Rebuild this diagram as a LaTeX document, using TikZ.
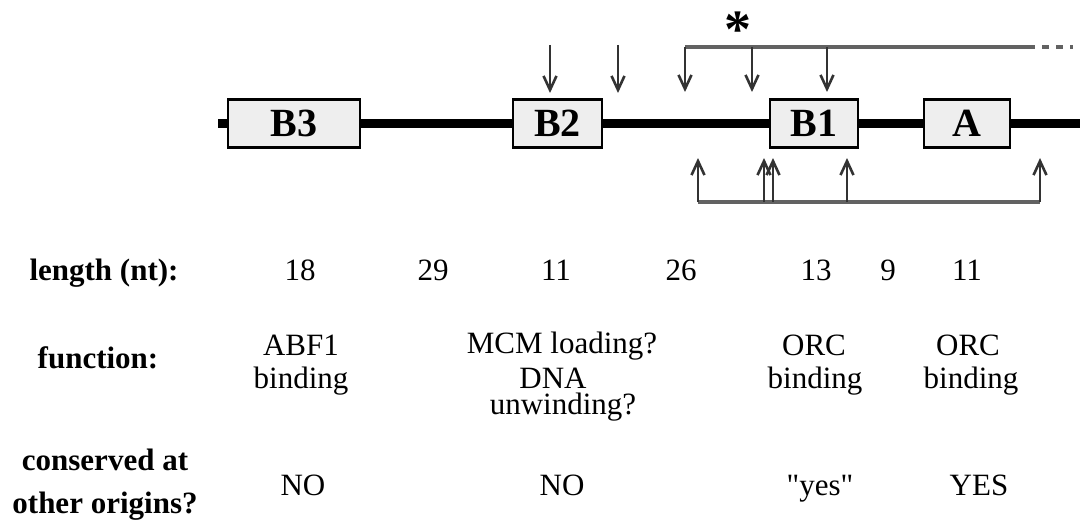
\documentclass[tikz,border=0pt]{standalone}
\usepackage{fontspec}
\setmainfont{Liberation Serif}[Ligatures=TeXOff]
\usetikzlibrary{arrows.meta}
\definecolor{boxfill}{HTML}{EEEEEE}
\definecolor{brkgray}{HTML}{626262}
\definecolor{stemgray}{HTML}{333333}
\begin{document}
\begin{tikzpicture}[x=0.5pt,y=-0.5pt,
  dnaseg/.style={line width=4.5pt, draw=black},
  boxnode/.style={draw=black, line width=1.1pt, fill=boxfill, minimum height=24pt, inner sep=0pt, font=\fontsize{20}{24}\selectfont\bfseries},
  txt/.style={anchor=base, inner sep=0pt, font=\fontsize{15.5}{18}\selectfont},
  lab/.style={anchor=base, inner sep=0pt, font=\fontsize{15.5}{18}\selectfont\bfseries},
  cut/.style={line width=1.4pt, draw=stemgray, -{Straight Barb[length=7pt,width=6.5pt,line width=1.3pt]}},
  brk/.style={line width=2pt, draw=brkgray},
]
\useasboundingbox (0,0) rectangle (1080,519);
% DNA and elements
\coordinate (L) at (218,123.5);
\coordinate (R) at (1080,123.5);
\node[boxnode, minimum width=66pt] (B3) at (294,123.5) {B3};
\node[boxnode, minimum width=44.5pt] (B2) at (557.5,123.5) {B2};
\node[boxnode, minimum width=44pt] (B1) at (814,123.5) {B1};
\node[boxnode, minimum width=43pt] (A) at (967,123.5) {A};
\draw[dnaseg] (L) -- (B3.west);
\draw[dnaseg] (B3.east) -- (B2.west);
\draw[dnaseg] (B2.east) -- (B1.west);
\draw[dnaseg] (B1.east) -- (A.west);
\draw[dnaseg] (A.east) -- (R);
% arrows above B2
\coordinate (u1) at (550,45); \coordinate (d1) at (550,93);
\coordinate (u2) at (618,45); \coordinate (d2) at (618,93);
\draw[cut] (u1) -- (d1);
\draw[cut] (u2) -- (d2);
% top bracket
\node[inner sep=0pt, anchor=north, font=\fontsize{27}{30}\selectfont\bfseries] (star) at (738,11) {*};
\coordinate (t1) at (685,47); \coordinate (t2) at (752,47); \coordinate (t3) at (827,47);
\coordinate (t4) at (1028,47); \coordinate (t5) at (1073,47);
\draw[brk] (t1) -- (t4);
\draw[brk, dash pattern=on 3.5pt off 3.5pt] (t4) -- (t5);
\coordinate (s1) at (685,92); \coordinate (s2) at (752,92); \coordinate (s3) at (827,92);
\draw[cut] (t1) -- (s1);
\draw[cut] (t2) -- (s2);
\draw[cut] (t3) -- (s3);
% bottom bracket
\coordinate (b1) at (698,202); \coordinate (b2) at (764,202); \coordinate (b3) at (773,202);
\coordinate (b4) at (847,202); \coordinate (b5) at (1040,202);
\coordinate (h1) at (698,158); \coordinate (h2) at (764,158); \coordinate (h3) at (773,158);
\coordinate (h4) at (847,158); \coordinate (h5) at (1040,158);
\draw[brk] (b1) -- (b5);
\draw[cut] (b1) -- (h1);
\draw[cut] (b2) -- (h2);
\draw[cut] (b3) -- (h3);
\draw[cut] (b4) -- (h4);
\draw[cut] (b5) -- (h5);
% length row
\node[lab] (lenlab) at (104,280) {length (nt):};
\node[txt] (n1) at (300,280) {18};
\node[txt] (n2) at (433,280) {29};
\node[txt] (n3) at (556,280) {11};
\node[txt] (n4) at (681,280) {26};
\node[txt] (n5) at (816,280) {13};
\node[txt] (n6) at (888,280) {9};
\node[txt] (n7) at (967,280) {11};
% function row
\node[lab] (funlab) at (98,368) {function:};
\node[txt] (f1a) at (301,355) {ABF1};
\node[txt] (f1b) at (301,388) {binding};
\node[txt] (f2a) at (562,353) {MCM loading?};
\node[txt] (f2b) at (553,388) {DNA};
\node[txt] (f2c) at (563,414) {unwinding?};
\node[txt] (f3a) at (814,355) {ORC};
\node[txt] (f3b) at (815,388) {binding};
\node[txt] (f4a) at (968,355) {ORC};
\node[txt] (f4b) at (971,388) {binding};
% conserved row
\node[lab] (conlab1) at (105,470) {conserved at};
\node[lab] (conlab2) at (105,513) {other origins?};
\node[txt] (c1) at (303,495) {NO};
\node[txt] (c2) at (562,495) {NO};
\node[txt] (c3) at (820,495) {"yes"};
\node[txt] (c4) at (979,495) {YES};
\end{tikzpicture}
\end{document}
